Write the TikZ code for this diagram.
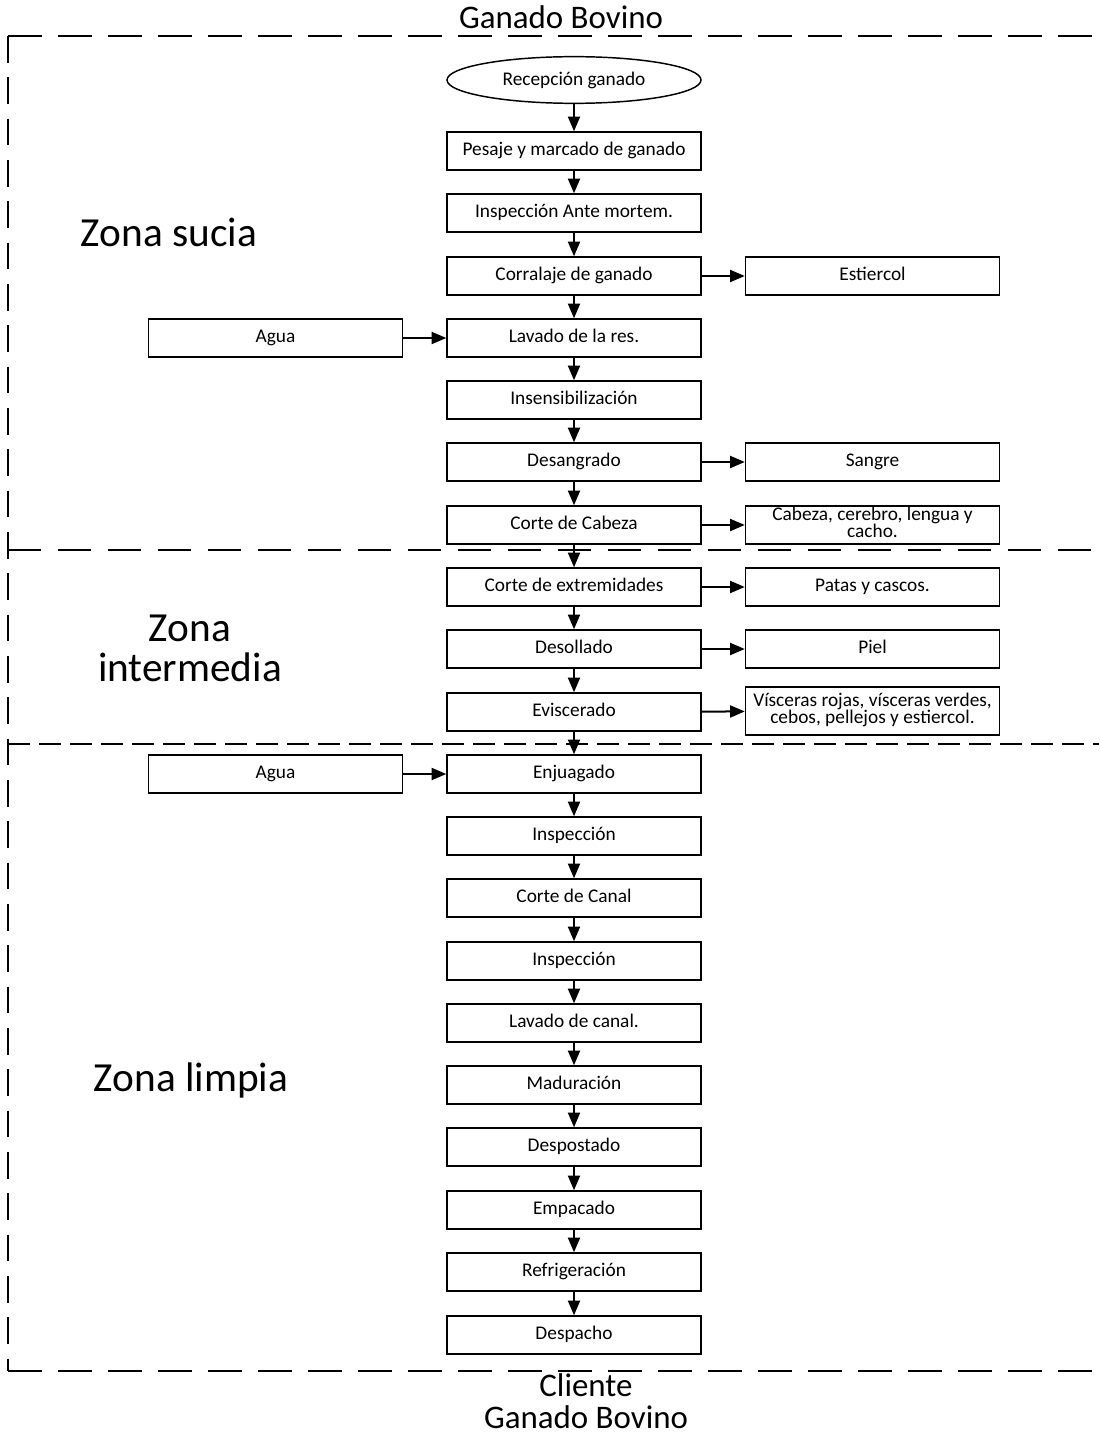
\documentclass[tikz,border=0pt]{standalone}
\usepackage{fontspec}
\setmainfont{Carlito}
\usetikzlibrary{shapes.geometric,arrows.meta}

\begin{document}
\begin{tikzpicture}[x=0.75pt,y=-0.75pt,
  proc/.style={rectangle,draw,line width=1.1pt,minimum width=190.5pt,minimum height=28.5pt,inner sep=0pt,font=\fontsize{14.5}{12.75}\selectfont,align=center,execute at begin node={\rule{0pt}{9.5pt}},execute at end node={\rule[-3.5pt]{0pt}{3.5pt}}},
  flow/.style={line width=1.5pt,-{Triangle[length=11pt,width=9pt]}},
  zonelabel/.style={font=\fontsize{31}{30}\selectfont,align=center},
  titlelabel/.style={font=\fontsize{24.7}{24.7}\selectfont,anchor=base,inner sep=0pt},
  hframe/.style={line width=1.5pt,dash pattern=on 25.5pt off 12pt},
  vframe/.style={line width=1.5pt,dash pattern=on 20pt off 11pt},
  ]
\useasboundingbox (0,0) rectangle (1099,1434);

% outer frame (open on the right)
\draw[hframe] (8,36) -- (1099,36);
\draw[vframe] (8,36) -- (8,1371);
\draw[hframe] (8,1371) -- (1099,1371);

% zone borders
\draw[line width=2.2pt,dash pattern=on 25pt off 12.5pt] (8,550) -- (1099,550);
\draw[line width=1.5pt,dash pattern=on 16.5pt off 6.75pt] (8,744) -- (1099,744);

% titles
\node[titlelabel] (ganado) at (561,29) {Ganado Bovino};
\node[titlelabel] (cliente) at (586,1396) {Cliente};
\node[titlelabel] (ganado2) at (586,1428) {Ganado Bovino};

% zone labels
\node[zonelabel] (sucia) at (169,232) {Zona sucia};
\node[zonelabel] (intermedia) at (190,648) {Zona\\intermedia};
\node[zonelabel] (limpia) at (191,1080) {Zona limpia};

% reception node
\node[ellipse,draw,line width=1.1pt,minimum width=190.5pt,minimum height=35pt,inner sep=0pt,font=\fontsize{14.5}{12.75}\selectfont] (recep) at (574,80) {Recepción ganado};

% zona sucia nodes
\node[proc] (pesaje) at (574,151) {Pesaje y marcado de ganado};
\node[proc] (inspante) at (574,213) {Inspección Ante mortem.};
\node[proc] (corral) at (574,276) {Corralaje de ganado};
\node[proc] (lavres) at (574,338) {Lavado de la res.};
\node[proc] (insens) at (574,400) {Insensibilización};
\node[proc] (desang) at (574,462) {Desangrado};
\node[proc] (cabeza) at (574,525) {Corte de Cabeza};

% zona intermedia nodes
\node[proc] (extrem) at (574,587) {Corte de extremidades};
\node[proc] (desoll) at (574,649) {Desollado};
\node[proc] (evisc) at (574,712) {Eviscerado};

% zona limpia nodes
\node[proc] (enjuag) at (574,774) {Enjuagado};
\node[proc] (insp1) at (574,836) {Inspección};
\node[proc] (canal) at (574,898) {Corte de Canal};
\node[proc] (insp2) at (574,961) {Inspección};
\node[proc] (lavcan) at (574,1023) {Lavado de canal.};
\node[proc] (madur) at (574,1085) {Maduración};
\node[proc] (despost) at (574,1147) {Despostado};
\node[proc] (empac) at (574,1210) {Empacado};
\node[proc] (refrig) at (574,1272) {Refrigeración};
\node[proc] (despa) at (574,1335) {Despacho};

% inputs
\node[proc] (agua1) at (275.5,338) {Agua};
\node[proc] (agua2) at (275.5,774) {Agua};

% outputs
\node[proc] (estiercol) at (872.5,276) {Estiercol};
\node[proc] (sangre) at (872.5,462) {Sangre};
\node[proc] (cabezaout) at (872.5,525) {Cabeza, cerebro, lengua y\\cacho.};
\node[proc] (patas) at (872.5,587) {Patas y cascos.};
\node[proc] (piel) at (872.5,649) {Piel};
\node[proc,minimum height=36pt] (visceras) at (872.5,711) {Vísceras rojas, vísceras verdes,\\cebos, pellejos y estiercol.};

% main flow
\draw[flow] (recep) -- (pesaje);
\draw[flow] (pesaje) -- (inspante);
\draw[flow] (inspante) -- (corral);
\draw[flow] (corral) -- (lavres);
\draw[flow] (lavres) -- (insens);
\draw[flow] (insens) -- (desang);
\draw[flow] (desang) -- (cabeza);
\draw[flow] (cabeza) -- (extrem);
\draw[flow] (extrem) -- (desoll);
\draw[flow] (desoll) -- (evisc);
\draw[flow] (evisc) -- (enjuag);
\draw[flow] (enjuag) -- (insp1);
\draw[flow] (insp1) -- (canal);
\draw[flow] (canal) -- (insp2);
\draw[flow] (insp2) -- (lavcan);
\draw[flow] (lavcan) -- (madur);
\draw[flow] (madur) -- (despost);
\draw[flow] (despost) -- (empac);
\draw[flow] (empac) -- (refrig);
\draw[flow] (refrig) -- (despa);

% side flows
\draw[flow] (agua1) -- (lavres);
\draw[flow] (agua2) -- (enjuag);
\draw[flow] (corral) -- (estiercol);
\draw[flow] (desang) -- (sangre);
\draw[flow] (cabeza) -- (cabezaout);
\draw[flow] (extrem) -- (patas);
\draw[flow] (desoll) -- (piel);
\draw[flow] (evisc) -- (visceras);

\end{tikzpicture}
\end{document}
